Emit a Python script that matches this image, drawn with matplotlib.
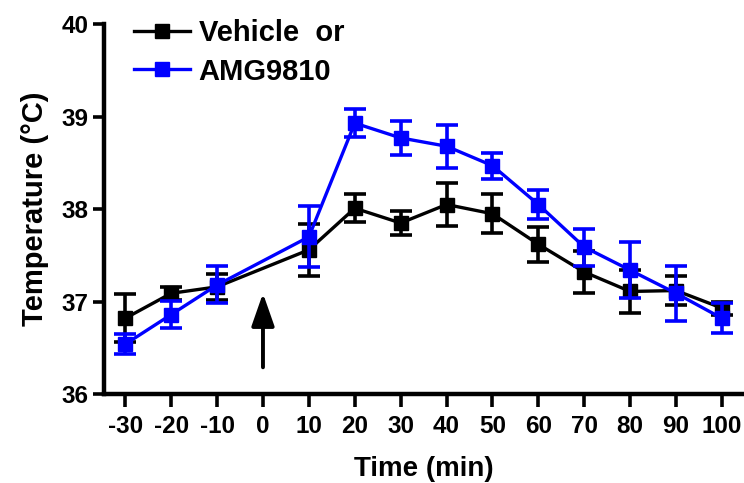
import matplotlib
matplotlib.use("Agg")
import matplotlib.pyplot as plt
from matplotlib.lines import Line2D

plt.rcParams['font.family'] = ['Liberation Sans', 'DejaVu Sans']
plt.rcParams['font.weight'] = 'bold'

time = [-30, -20, -10, 10, 20, 30, 40, 50, 60, 70, 80, 90, 100]
tick_labels = ['-30', '-20', '-10', '0', '10', '20', '30', '40', '50', '60', '70', '80', '90', '100']
tick_pos = [-30, -20, -10, 0, 10, 20, 30, 40, 50, 60, 70, 80, 90, 100]

vehicle = [36.82, 37.09, 37.16, 37.56, 38.01, 37.85, 38.05, 37.95, 37.62, 37.32, 37.11, 37.12, 36.93]
vehicle_err = [0.26, 0.07, 0.14, 0.28, 0.15, 0.13, 0.23, 0.21, 0.19, 0.23, 0.23, 0.16, 0.07]
amg = [36.54, 36.86, 37.18, 37.70, 38.93, 38.77, 38.68, 38.47, 38.05, 37.59, 37.34, 37.09, 36.82]
amg_err = [0.11, 0.15, 0.20, 0.33, 0.15, 0.18, 0.23, 0.14, 0.16, 0.20, 0.30, 0.30, 0.16]

fig = plt.figure(figsize=(7.44, 4.83), dpi=100)
ax = fig.add_axes([0.140, 0.184, 0.86, 0.766])

common = dict(marker='s', markersize=10, linewidth=2.4, capsize=8, capthick=2.6, elinewidth=2.6)
ax.errorbar(time, vehicle, yerr=vehicle_err, color='black', zorder=3, **common)
ax.errorbar(time, amg, yerr=amg_err, color='#0000ff', zorder=4, **common)

ax.annotate('', xy=(0, 37.12), xytext=(0, 36.26),
            arrowprops=dict(arrowstyle='-|>,head_length=2.0,head_width=0.7', color='black', lw=2.8))

ax.set_xlim(-34.6, 104.8)
ax.set_ylim(36, 40)
ax.set_xticks(tick_pos)
ax.set_xticklabels(tick_labels)
ax.set_yticks([36, 37, 38, 39, 40])

for s in ['top', 'right']:
    ax.spines[s].set_visible(False)
for s in ['left', 'bottom']:
    ax.spines[s].set_linewidth(3.2)
ax.tick_params(axis='both', direction='out', length=8, width=2.6, labelsize=17.5, pad=3)
ax.tick_params(axis='x', length=9, pad=6)
for lab in ax.get_xticklabels() + ax.get_yticklabels():
    lab.set_fontweight('bold')

ax.set_xlabel('Time (min)', fontsize=20, fontweight='bold', labelpad=13)
ax.set_ylabel('Temperature (°C)', fontsize=21, fontweight='bold', labelpad=9)

handles = [Line2D([], [], color='black', marker='s', markersize=10, linewidth=2.4),
           Line2D([], [], color='#0000ff', marker='s', markersize=10, linewidth=2.4)]
leg = ax.legend(handles, ['Vehicle  or', 'AMG9810'], loc='upper left',
                bbox_to_anchor=(0.02, 1.06), frameon=False,
                prop=dict(size=21, weight='bold'), handlelength=1.9, handletextpad=0.3,
                labelspacing=0.35, borderaxespad=0.2)

fig.savefig('out.png', dpi=100)
